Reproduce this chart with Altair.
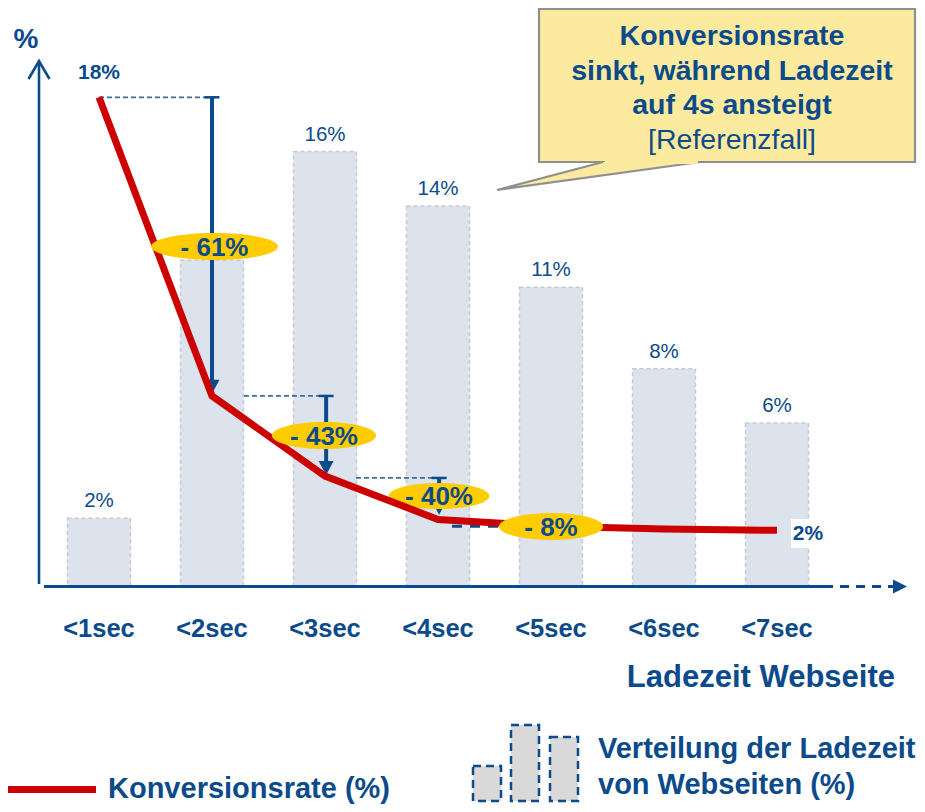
import altair as alt
import pandas as pd

# ---------------- data ----------------
categories = ["<1sec", "<2sec", "<3sec", "<4sec", "<5sec", "<6sec", "<7sec"]
share_values = [2.5, 12, 16, 14, 11, 8, 6]          # Verteilung der Ladezeit (%)
share_labels = ["2%", "", "16%", "14%", "11%", "8%", "6%"]
conv_values = [18, 7.0, 4.05, 2.45, 2.2, 2.1, 2.05]  # Konversionsrate (%)
conv_first_label = "18%"
conv_last_label = "2%"
drop_labels = ["- 61%", "- 43%", "- 40%", "- 8%"]

# ---------------- layout helpers ----------------
NAVY = "#0B4A8B"
RED = "#CC0000"
FONT = "Liberation Sans"
OFF = 8
W, H = 909, 796
PX0, PXS = 99.0, 113.0      # page x of category centre 0, step
PY0, PYS = 586.0, 27.15     # page y of value 0, px per %


def ix(px):
    return (px - PX0) / PXS


def vy(py):
    return (PY0 - py) / PYS


def v(p):  # page px -> view px
    return p - OFF


xs = alt.Scale(domain=[ix(OFF), ix(OFF + W)], nice=False, zero=False)
ys = alt.Scale(domain=[vy(OFF + H), vy(OFF)], nice=False, zero=False)


def X(f):
    return alt.X(f, type="quantitative", scale=xs, axis=None)


def Y(f):
    return alt.Y(f, type="quantitative", scale=ys, axis=None)


one = alt.Data(values=[{"a": 1}])

bars_df = pd.DataFrame({
    "i": range(len(categories)),
    "cat": categories,
    "value": share_values,
    "label": share_labels,
})
line_df = pd.DataFrame({"i": range(len(categories)), "conv": conv_values})

# ---------------- bars ----------------
HALF = 31.5 / PXS
bars = alt.Chart(bars_df).transform_calculate(
    x0=f"datum.i - {HALF}", x1=f"datum.i + {HALF}", zero="0"
).mark_rect(fill="#DCE3ED", stroke="#C6CBD2", strokeWidth=1.5, strokeDash=[4, 3]).encode(
    x=X("x0:Q"), x2="x1:Q", y=Y("zero:Q"), y2="value:Q"
)

bar_labels = alt.Chart(bars_df).transform_filter("datum.label != ''").mark_text(
    fontSize=20.5, color=NAVY, dy=-11, baseline="alphabetic", align="center"
).encode(x=X("i:Q"), y=Y("value:Q"), text="label:N")

# ---------------- axes (furniture) ----------------
y_axis = alt.Chart(one).mark_rule(color=NAVY, strokeWidth=2.6).encode(
    x=alt.value(v(39)), y=alt.value(v(63)), y2=alt.value(v(584))
)
y_arrow = alt.Chart(one).mark_point(
    shape="M-1,0.857 L0,-0.857 L1,0.857", size=441, filled=False,
    stroke=NAVY, strokeWidth=2.6, opacity=1
).encode(x=alt.value(v(39)), y=alt.value(v(70)))
y_title = alt.Chart(one).mark_text(
    text="%", fontSize=28, fontWeight="bold", color=NAVY, align="center", baseline="alphabetic"
).encode(x=alt.value(v(26)), y=alt.value(v(48)))

x_axis = alt.Chart(one).mark_rule(color=NAVY, strokeWidth=2.8).encode(
    x=alt.value(v(44)), x2=alt.value(v(833)), y=alt.value(v(586.5))
)
x_dash = alt.Chart(one).mark_rule(color=NAVY, strokeWidth=2.8, strokeDash=[9, 7]).encode(
    x=alt.value(v(840)), x2=alt.value(v(893)), y=alt.value(v(586.5))
)
x_arrow = alt.Chart(one).mark_point(
    shape="M-1,-1 L1,0 L-1,1 Z", size=196, filled=True, fill=NAVY, opacity=1, strokeWidth=0
).encode(x=alt.value(v(900)), y=alt.value(v(586.5)))

cat_labels = alt.Chart(bars_df).mark_text(
    fontSize=25.5, fontWeight="bold", color=NAVY, align="center", baseline="alphabetic"
).encode(x=X("i:Q"), y=alt.value(v(637)), text="cat:N")

x_title = alt.Chart(one).mark_text(
    text="Ladezeit Webseite", fontSize=31, fontWeight="bold", color=NAVY,
    align="right", baseline="alphabetic"
).encode(x=alt.value(v(895)), y=alt.value(v(687)))

# ---------------- helper dashed lines and arrows ----------------
dash_df = pd.DataFrame({
    "x1": [0, ix(244), ix(356)],
    "x2": [ix(217), ix(333), ix(445)],
    "v": [conv_values[0], conv_values[1], conv_values[2] - 0.07],
})
dashes = alt.Chart(dash_df).mark_rule(color="#3F6C9C", strokeWidth=1.8, strokeDash=[5, 3]).encode(
    x=X("x1:Q"), x2="x2:Q", y=Y("v:Q")
)
dash4_df = pd.DataFrame({"x1": [ix(452)], "x2": [ix(540)], "v": [conv_values[4]]})
dash4 = alt.Chart(dash4_df).mark_rule(color=NAVY, strokeWidth=3, strokeDash=[10, 8]).encode(
    x=X("x1:Q"), x2="x2:Q", y=Y("v:Q")
)

HEAD = 14 / PYS
arrow_df = pd.DataFrame({
    "x": [1.0, 2.01, 3.01],
    "top": [conv_values[0], conv_values[1], conv_values[2] - 0.07],
    "tip": [conv_values[1] + 0.08, conv_values[2] + 0.04, 2.62],
})
arrow_df["shaft_end"] = arrow_df["tip"] + HEAD * 0.9
arrow_df["head"] = arrow_df["tip"] + HEAD / 2
arrow_df["cap0"] = arrow_df["x"] - 7.5 / PXS
arrow_df["cap1"] = arrow_df["x"] + 7.5 / PXS

shafts = alt.Chart(arrow_df).mark_rule(color=NAVY, strokeWidth=4).encode(
    x=X("x:Q"), y=Y("top:Q"), y2="shaft_end:Q"
)
caps = alt.Chart(arrow_df).mark_rule(color=NAVY, strokeWidth=2.5).encode(
    x=X("cap0:Q"), x2="cap1:Q", y=Y("top:Q")
)
heads = alt.Chart(arrow_df).mark_point(
    shape="M-1.07,-1 L1.07,-1 L0,1 Z", size=196, filled=True, fill=NAVY, opacity=1, strokeWidth=0
).encode(x=X("x:Q"), y=Y("head:Q"))

# ---------------- ellipses ----------------
def ellipse_path(r):
    k = 0.5523
    return (f"M-1,0 C-1,{-k*r:.4f} {-k},{-r:.4f} 0,{-r:.4f} "
            f"C{k},{-r:.4f} 1,{-k*r:.4f} 1,0 C1,{k*r:.4f} {k},{r:.4f} 0,{r:.4f} "
            f"C{-k},{r:.4f} -1,{k*r:.4f} -1,0 Z")


ell_px = [(214.5, 246.5, 127, 27), (324, 435.5, 104, 27), (439, 496, 101, 26), (551, 526.5, 104, 27)]
ell_df = pd.DataFrame({
    "label": drop_labels,
    "x": [ix(p[0]) for p in ell_px],
    "y": [vy(p[1]) for p in ell_px],
    "size": [p[2] ** 2 for p in ell_px],
    "shape": [ellipse_path(p[3] / p[2]) for p in ell_px],
    "under": [False, False, True, False],
})


def ellipses(under):
    base = alt.Chart(ell_df).transform_filter(f"datum.under == {str(under).lower()}")
    shape = base.mark_point(filled=True, fill="#FFCC00", opacity=1, strokeWidth=0).encode(
        x=X("x:Q"), y=Y("y:Q"),
        shape=alt.Shape("shape:N", scale=None),
        size=alt.Size("size:Q", scale=None),
    )
    txt = base.mark_text(fontSize=26, fontWeight="bold", color=NAVY, align="center",
                         baseline="middle", dy=1).encode(x=X("x:Q"), y=Y("y:Q"), text="label:N")
    return shape + txt


# ---------------- conversion line ----------------
conv_line = alt.Chart(line_df).mark_line(
    color=RED, strokeWidth=7, strokeCap="butt", strokeJoin="miter"
).encode(x=X("i:Q"), y=Y("conv:Q"))

first_lbl = alt.Chart(line_df).transform_filter("datum.i == 0").mark_text(
    text=conv_first_label, fontSize=21, fontWeight="bold", color=NAVY, align="center",
    baseline="alphabetic", dy=-18
).encode(x=X("i:Q"), y=Y("conv:Q"))

last_bg = alt.Chart(one).mark_rect(fill="white").encode(
    x=alt.value(v(791)), x2=alt.value(v(827)), y=alt.value(v(519)), y2=alt.value(v(548))
)
last_lbl = alt.Chart(line_df).transform_filter("datum.i == 6").mark_text(
    text=conv_last_label, fontSize=21, fontWeight="bold", color=NAVY, align="center",
    baseline="alphabetic", dx=31, dy=10
).encode(x=X("i:Q"), y=Y("conv:Q"))

# ---------------- callout ----------------
CALL_FILL = "#FCEA9F"
CALL_STROKE = "#8F8F8F"
box = alt.Chart(one).mark_rect(fill=CALL_FILL, stroke=CALL_STROKE, strokeWidth=2.2).encode(
    x=alt.value(v(539)), x2=alt.value(v(915)), y=alt.value(v(9)), y2=alt.value(v(162))
)
tail = alt.Chart(one).mark_point(
    shape="M0.3125,0 L-0.95625,0.175 L-0.29375,0", size=102400, filled=True,
    fill=CALL_FILL, stroke=CALL_STROKE, strokeWidth=2.2, opacity=1
).encode(x=alt.value(v(650)), y=alt.value(v(162)))
patch = alt.Chart(one).mark_rect(fill=CALL_FILL).encode(
    x=alt.value(v(605)), x2=alt.value(v(698)), y=alt.value(v(159)), y2=alt.value(v(164))
)
call_lines = [
    ("Konversionsrate", 45, "bold"),
    ("sinkt, während Ladezeit", 79.5, "bold"),
    ("auf 4s ansteigt", 114, "bold"),
    ("[Referenzfall]", 149, "normal"),
]
call_texts = [
    alt.Chart(one).mark_text(text=t, fontSize=28.5, fontWeight=w, color=NAVY, align="center",
                             baseline="alphabetic").encode(x=alt.value(v(732)), y=alt.value(v(b)))
    for t, b, w in call_lines
]

# ---------------- legend ----------------
LS = 9  # legend shift up
leg_line = alt.Chart(one).mark_rule(color=RED, strokeWidth=7).encode(
    x=alt.value(v(8)), x2=alt.value(v(96)), y=alt.value(v(798.5 - LS))
)
leg_text1 = alt.Chart(one).mark_text(
    text="Konversionsrate (%)", fontSize=29, fontWeight="bold", color=NAVY, align="left",
    baseline="alphabetic"
).encode(x=alt.value(v(108)), y=alt.value(v(807 - LS)))

leg_bars_px = [(473, 501, 775), (511, 539, 734), (550, 578, 746)]
leg_bars = [
    alt.Chart(one).mark_rect(fill="#D9D9D9", stroke=NAVY, strokeWidth=2.5, strokeDash=[8, 5]).encode(
        x=alt.value(v(a)), x2=alt.value(v(b)), y=alt.value(v(t - LS)), y2=alt.value(v(810 - LS))
    )
    for a, b, t in leg_bars_px
]
leg_text2 = [
    alt.Chart(one).mark_text(text=t, fontSize=29, fontWeight="bold", color=NAVY, align="left",
                             baseline="alphabetic").encode(x=alt.value(v(598)), y=alt.value(v(b - LS)))
    for t, b in [("Verteilung der Ladezeit", 767), ("von Webseiten (%)", 803)]
]

chart = alt.layer(
    bars, bar_labels,
    dashes, dash4, shafts, caps, heads,
    ellipses(True),
    conv_line,
    ellipses(False),
    first_lbl, last_bg, last_lbl,
    y_axis, y_arrow, y_title, x_axis, x_dash, x_arrow, cat_labels, x_title,
    box, tail, patch, *call_texts,
    leg_line, leg_text1, *leg_bars, *leg_text2,
).properties(
    width=W, height=H, padding=0, autosize=alt.AutoSizeParams(type="none")
).configure_view(stroke=None).configure_text(font=FONT)

chart.save("out.html", embed_options={"renderer": "svg", "actions": False})
